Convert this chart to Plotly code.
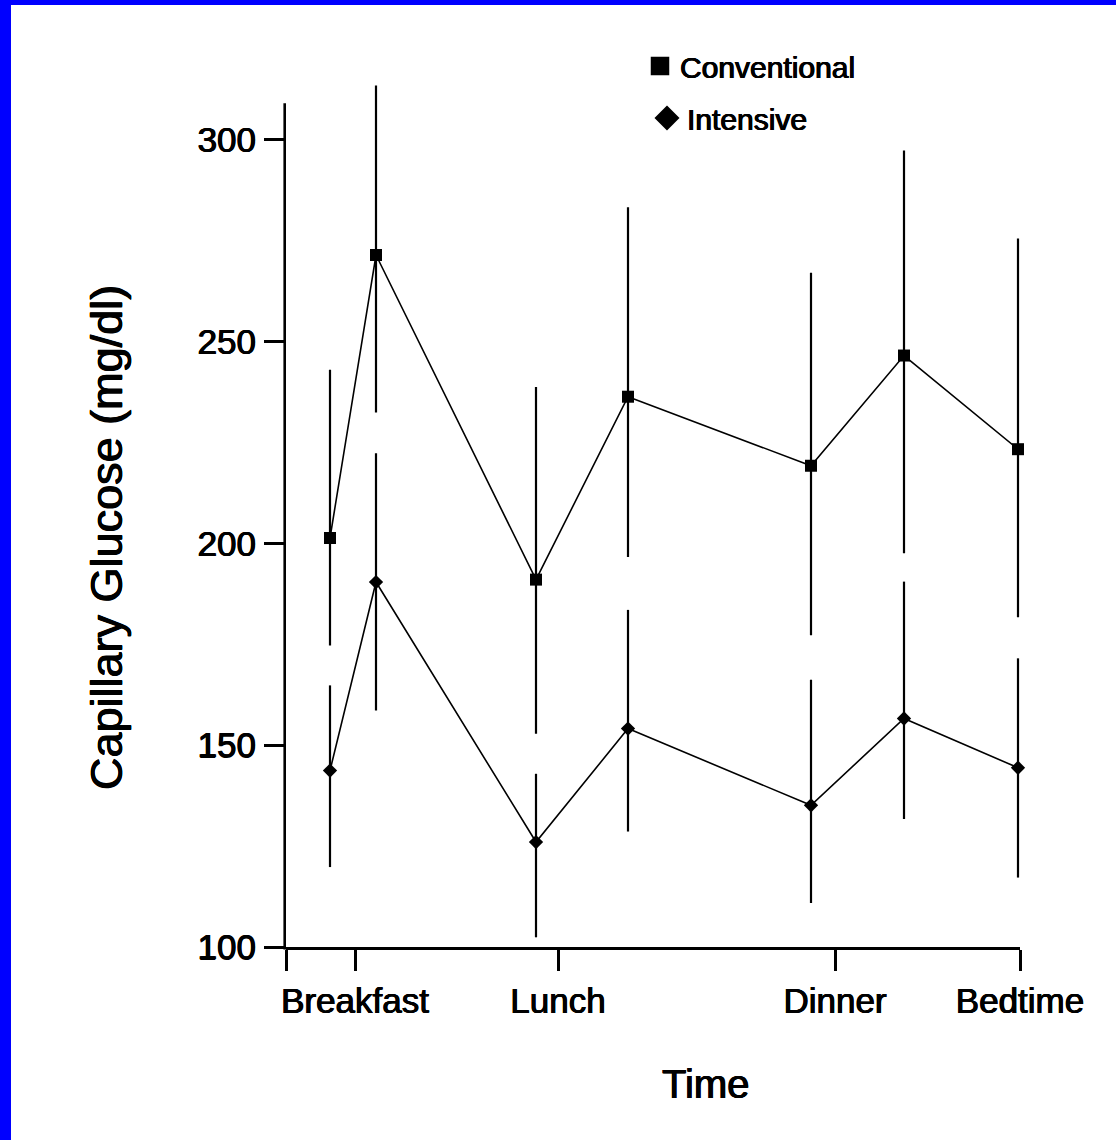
import plotly.graph_objects as go

# ---------------- data ----------------
series_names = ["Conventional", "Intensive"]
tick_labels = ["", "Breakfast", "Lunch", "Dinner", "Bedtime"]
tick_positions = [-6.9, 0.0, 20.3, 48.0, 66.5]          # time axis (arbitrary units)
sample_times = [-2.5, 2.1, 18.1, 27.3, 45.6, 54.9, 66.3]  # pre/post meal sampling points

conv_mean = [201.3, 271.4, 191.0, 236.3, 219.2, 246.5, 223.3]
conv_upper = [243.0, 313.4, 238.7, 283.2, 267.0, 297.3, 275.5]
conv_lower = [174.7, 232.4, 152.8, 196.6, 177.2, 197.5, 181.7]

int_mean = [143.7, 190.4, 126.0, 154.1, 135.1, 156.6, 144.4]
int_upper = [164.8, 222.3, 142.9, 183.5, 166.2, 190.5, 171.5]
int_lower = [119.8, 158.6, 102.4, 128.6, 110.9, 131.7, 117.2]

y_ticks = [100, 150, 200, 250, 300]
y_axis_top = 309          # where the drawn y-axis line ends
y_range = [100, 314.5]    # a little headroom so the tallest error bar is not clipped

# ---------------- layout constants ----------------
W, H = 1116, 1140
ML, MR, MT, MB = 286, 96, 81, 193
PW, PH = W - ML - MR, H - MT - MB
FONT = "Liberation Sans, Arial, Helvetica, sans-serif"
SHADOW = "0.55px 0 0 #000, -0.55px 0 0 #000, 0 0.3px 0 #000"
LW = 2.6


def px_x(px):
    return (px - ML) / PW


def px_y(py):
    return 1 - (py - MT) / PH


def val_y(v):
    return (v - y_range[0]) / (y_range[1] - y_range[0])


def font(size):
    return dict(family=FONT, size=size, color="black", shadow=SHADOW)


fig = go.Figure()


def add_series(name, mean, upper, lower, symbol, size):
    fig.add_trace(go.Scatter(
        x=sample_times, y=mean, mode="lines+markers", name=name,
        showlegend=False, cliponaxis=False,
        line=dict(color="black", width=1.6),
        marker=dict(symbol=symbol, size=size, color="black"),
        error_y=dict(type="data", symmetric=False,
                     array=[u - m for u, m in zip(upper, mean)],
                     arrayminus=[m - l for m, l in zip(mean, lower)],
                     width=0, thickness=2.2, color="black"),
    ))


add_series(series_names[0], conv_mean, conv_upper, conv_lower, "square", 12)
add_series(series_names[1], int_mean, int_upper, int_lower, "diamond", 11)

# legend entries (marker only)
fig.add_trace(go.Scatter(x=[None], y=[None], mode="markers", name=series_names[0],
                         legend="legend",
                         marker=dict(symbol="square", size=16, color="black",
                                     line=dict(color="black", width=2.5))))
fig.add_trace(go.Scatter(x=[None], y=[None], mode="markers", name=series_names[1],
                         legend="legend2",
                         marker=dict(symbol="diamond", size=16, color="black",
                                     line=dict(color="black", width=3))))

tick_common = dict(ticks="outside", ticklen=21, tickwidth=LW, tickcolor="black",
                   showgrid=False, zeroline=False, tickfont=font(35))

fig.update_xaxes(range=[tick_positions[0], tick_positions[-1]],
                 tickmode="array", tickvals=tick_positions, ticktext=tick_labels,
                 showline=True, linecolor="black", linewidth=LW,
                 ticklabelstandoff=0, **tick_common)
fig.update_yaxes(range=y_range, tickmode="array", tickvals=y_ticks,
                 ticktext=[str(v) for v in y_ticks], showline=False,
                 ticklabelstandoff=1, **tick_common)

legend_font = font(30)
fig.update_layout(
    width=W, height=H,
    margin=dict(l=ML, r=MR, t=MT, b=MB, autoexpand=False),
    paper_bgcolor="white", plot_bgcolor="white",
    legend=dict(x=px_x(640), y=px_y(66), xanchor="left", yanchor="middle",
                font=legend_font, bgcolor="rgba(0,0,0,0)", borderwidth=0),
    legend2=dict(x=px_x(647), y=px_y(118), xanchor="left", yanchor="middle",
                 font=legend_font, bgcolor="rgba(0,0,0,0)", borderwidth=0),
    annotations=[
        dict(text="Time", x=px_x(705), y=px_y(1084), xref="paper", yref="paper",
             showarrow=False, xanchor="center", yanchor="middle", font=font(40)),
        dict(text="Capillary Glucose (mg/dl)", x=px_x(106), y=px_y(538),
             xref="paper", yref="paper", showarrow=False, textangle=-90,
             xanchor="center", yanchor="middle", font=font(45)),
    ],
    shapes=[
        # y-axis line (stops at the top of the scale)
        dict(type="line", xref="paper", yref="paper", layer="above",
             x0=-LW / 2 / PW, x1=-LW / 2 / PW, y0=-LW / PH, y1=val_y(y_axis_top),
             line=dict(color="black", width=LW)),
        # blue frame of the scanned slide
        dict(type="rect", xref="paper", yref="paper", layer="above",
             x0=px_x(0), x1=px_x(11), y0=px_y(H), y1=px_y(0),
             fillcolor="#0000FF", line=dict(width=0)),
        dict(type="rect", xref="paper", yref="paper", layer="above",
             x0=px_x(0), x1=px_x(W), y0=px_y(5), y1=px_y(0),
             fillcolor="#0000FF", line=dict(width=0)),
    ],
)

fig.write_html("out.html", config={"displayModeBar": False},
               post_script="document.body.style.margin='0px';")
